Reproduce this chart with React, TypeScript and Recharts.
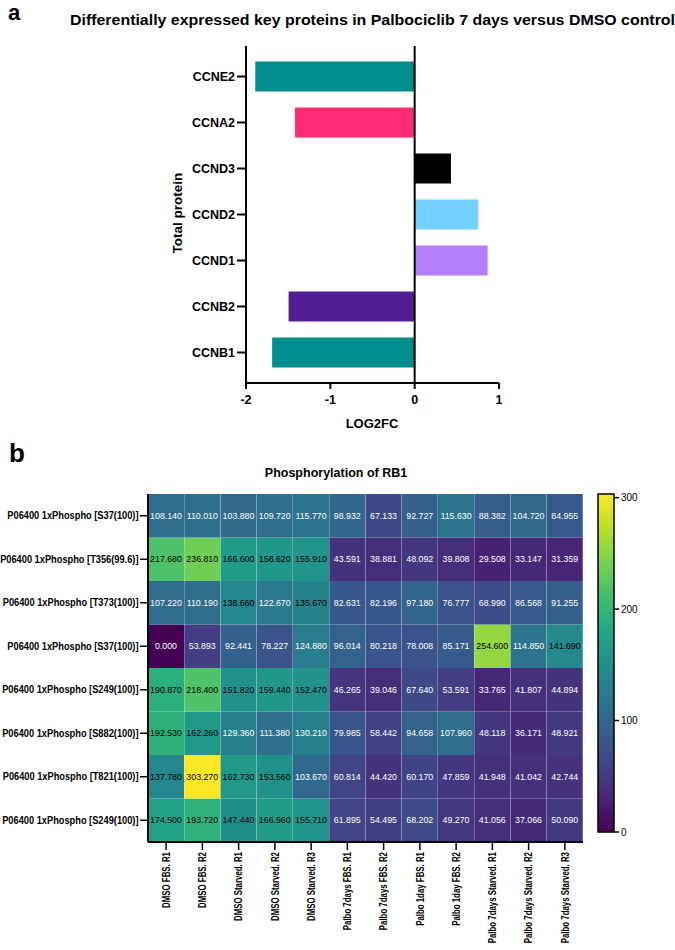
import React from 'react';
import { BarChart, Bar, XAxis, YAxis, Cell, ReferenceLine, LabelList } from 'recharts';

// ---------- Panel a data ----------
const proteins = ['CCNE2', 'CCNA2', 'CCND3', 'CCND2', 'CCND1', 'CCNB2', 'CCNB1'];
const log2fc = [-1.89, -1.42, 0.43, 0.755, 0.865, -1.495, -1.69];
const proteinColors = ['#008e8c', '#ff2b77', '#000000', '#73d1ff', '#b47dfa', '#521c92', '#008e8c'];
const log2fcTicks = [-2, -1, 0, 1];

// ---------- Panel b data ----------
const conditions = [
  'DMSO FBS. R1', 'DMSO FBS. R2', 'DMSO Starved. R1', 'DMSO Starved. R2', 'DMSO Starved. R3',
  'Palbo 7days FBS. R1', 'Palbo 7days FBS. R2', 'Palbo 1day FBS. R1', 'Palbo 1day FBS. R2',
  'Palbo 7days Starved. R1', 'Palbo 7days Starved. R2', 'Palbo 7days Starved. R3',
];
const sites = [
  'P06400 1xPhospho [S37(100)]',
  'P06400 1xPhospho [T356(99.6)]',
  'P06400 1xPhospho [T373(100)]',
  'P06400 1xPhospho [S37(100)]',
  'P06400 1xPhospho [S249(100)]',
  'P06400 1xPhospho [S882(100)]',
  'P06400 1xPhospho [T821(100)]',
  'P06400 1xPhospho [S249(100)]',
];
const rowS37a = [108.14, 110.01, 103.88, 109.72, 115.77, 98.932, 67.133, 92.727, 115.63, 88.382, 104.72, 84.955];
const rowT356 = [217.68, 236.81, 166.6, 158.62, 155.91, 43.591, 38.881, 48.092, 39.808, 29.508, 33.147, 31.359];
const rowT373 = [107.22, 110.19, 138.66, 122.67, 135.67, 82.631, 82.196, 97.18, 76.777, 68.99, 86.568, 91.255];
const rowS37b = [0.0, 53.893, 92.441, 78.227, 124.88, 96.014, 80.218, 78.008, 85.171, 254.6, 114.85, 141.69];
const rowS249a = [190.87, 218.4, 151.82, 159.44, 152.47, 46.265, 39.046, 67.64, 53.591, 33.765, 41.807, 44.894];
const rowS882 = [192.53, 162.26, 129.36, 111.38, 130.21, 79.985, 58.442, 94.658, 107.96, 48.118, 36.171, 48.921];
const rowT821 = [137.78, 303.27, 162.73, 153.56, 103.67, 60.814, 44.42, 60.17, 47.859, 41.948, 41.042, 42.744];
const rowS249b = [174.5, 193.72, 147.44, 166.56, 155.71, 61.895, 54.495, 68.202, 49.27, 41.056, 37.066, 50.09];
const heatRows = [rowS37a, rowT356, rowT373, rowS37b, rowS249a, rowS882, rowT821, rowS249b];
const colorbarTicks = [0, 100, 200, 300];

const FONT = '"Liberation Sans", Arial, Helvetica, sans-serif';

// viridis colormap stops
const viridis = ['#440154', '#482475', '#414487', '#355f8d', '#2a788e', '#21918c', '#22a884', '#44bf70', '#7ad151', '#bddf26', '#fde725'];
const hex2rgb = (h: string) => [parseInt(h.slice(1, 3), 16), parseInt(h.slice(3, 5), 16), parseInt(h.slice(5, 7), 16)];
const viridisColor = (t: number) => {
  const c = Math.max(0, Math.min(1, t)) * (viridis.length - 1);
  const i = Math.min(viridis.length - 2, Math.floor(c));
  const f = c - i;
  const a = hex2rgb(viridis[i]);
  const b = hex2rgb(viridis[i + 1]);
  const m = a.map((v, k) => Math.round(v + (b[k] - v) * f));
  return `rgb(${m[0]},${m[1]},${m[2]})`;
};

const vmax = Math.max(...heatRows.map((r) => Math.max(...r)));

const barData = proteins.map((p, i) => ({ protein: p, value: log2fc[i] }));

const heatData = conditions.map((c, j) => {
  const o: any = { cond: c };
  heatRows.forEach((r, i) => {
    o[`u${i}`] = 1;
    o[`v${i}`] = r[j];
  });
  return o;
});

const cbData = [{ k: 'scale', v: vmax }];

const CellLabel = (props: any) => {
  const { x, y, width, height, value } = props;
  const v = Number(value);
  return (
    <text
      x={Number(x) + Number(width) / 2}
      y={Number(y) + Number(height) / 2}
      dy="0.35em"
      textAnchor="middle"
      fontSize={8.8}
      fontFamily={FONT}
      fill={v >= 133 ? '#000' : '#fff'}
    >
      {v.toFixed(3)}
    </text>
  );
};

const CondTick = (props: any) => {
  const { x, y, payload } = props;
  return (
    <text
      x={0}
      y={0}
      transform={`translate(${x}, ${y}) rotate(-90) scale(0.75, 1)`}
      textAnchor="end"
      dy="0.35em"
      fontSize={10.5}
      fontWeight="bold"
      fontFamily={FONT}
      fill="#000"
    >
      {payload.value}
    </text>
  );
};

const rowTicks = heatRows.map((_, i) => i + 0.5);

const RowTick = (props: any) => {
  const { x, y, payload } = props;
  const label = sites[heatRows.length - 1 - Math.floor(Number(payload.value))];
  return (
    <text
      x={0}
      y={0}
      transform={`translate(${x}, ${y}) scale(0.9, 1)`}
      dy="0.35em"
      textAnchor="end"
      fontSize={10.3}
      fontWeight="bold"
      fontFamily={FONT}
      fill="#000"
    >
      {label}
    </text>
  );
};

export default function App() {
  const stackOrder = heatRows.map((_, i) => heatRows.length - 1 - i); // bottom row first
  return (
    <div style={{ position: 'absolute', left: 0, top: 0, width: 675, height: 950, background: '#fff', fontFamily: FONT, overflow: 'hidden' }}>
      <svg width={675} height={950} style={{ position: 'absolute', left: 0, top: 0 }}>
        <defs>
          <linearGradient id="viridisGrad" x1="0" y1="1" x2="0" y2="0">
            {viridis.map((c, i) => (
              <stop key={i} offset={`${(i / (viridis.length - 1)) * 100}%`} stopColor={c} />
            ))}
          </linearGradient>
        </defs>
        <text x={8} y={20} fontSize={22} fontWeight="bold" fontFamily={FONT}>a</text>
        <text x={70} y={25} fontSize={14.5} fontWeight="bold" fontFamily={FONT} textLength={605} lengthAdjust="spacingAndGlyphs">
          Differentially expressed key proteins in Palbociclib 7 days versus DMSO control
        </text>
        <text x={0} y={0} transform="translate(182, 213) rotate(-90)" textAnchor="middle" fontSize={13.5} fontWeight="bold" fontFamily={FONT}>
          Total protein
        </text>
        <text x={372} y={428} textAnchor="middle" fontSize={13} fontWeight="bold" fontFamily={FONT}>LOG2FC</text>
        <text x={9} y={462} fontSize={26} fontWeight="bold" fontFamily={FONT}>b</text>
        <text x={336} y={477} textAnchor="middle" fontSize={12.5} fontWeight="bold" fontFamily={FONT}>Phosphorylation of RB1</text>
      </svg>

      <div style={{ position: 'absolute', left: 0, top: 0 }}>
        <BarChart
          width={675}
          height={440}
          data={barData}
          layout="vertical"
          margin={{ top: 46, right: 176, bottom: 0, left: 0 }}
        >
          <XAxis
            type="number"
            domain={[-2, 1]}
            ticks={log2fcTicks}
            height={57}
            tickSize={6}
            tickMargin={6}
            axisLine={{ stroke: '#000', strokeWidth: 2 }}
            tickLine={{ stroke: '#000', strokeWidth: 2 }}
            tick={{ fill: '#000', fontSize: 12.5, fontWeight: 'bold', fontFamily: FONT }}
          />
          <YAxis
            type="category"
            dataKey="protein"
            width={246}
            padding={{ top: 7.5, bottom: 7.5 }}
            tickSize={9}
            tickMargin={2}
            axisLine={{ stroke: '#000', strokeWidth: 2 }}
            tickLine={{ stroke: '#000', strokeWidth: 2 }}
            tick={{ fill: '#000', fontSize: 12.5, fontWeight: 'bold', fontFamily: FONT }}
          />
          <Bar dataKey="value" barSize={30} isAnimationActive={false}>
            {barData.map((d, i) => (
              <Cell key={d.protein} fill={proteinColors[i]} />
            ))}
          </Bar>
          <ReferenceLine x={0} stroke="#000" strokeWidth={2} />
        </BarChart>
      </div>

      <div style={{ position: 'absolute', left: 0, top: 440 }}>
        <BarChart
          width={675}
          height={510}
          data={heatData}
          barCategoryGap={0}
          margin={{ top: 54, right: 92, bottom: 0, left: 0 }}
        >
          <XAxis
            dataKey="cond"
            type="category"
            height={108}
            interval={0}
            tickSize={8}
            tickMargin={2}
            axisLine={{ stroke: '#000', strokeWidth: 2 }}
            tickLine={{ stroke: '#000', strokeWidth: 1.5 }}
            tick={<CondTick />}
          />
          <XAxis xAxisId="top" orientation="top" dataKey="cond" type="category" height={0} tick={false} tickLine={false} axisLine={{ stroke: '#000', strokeWidth: 2 }} />
          <YAxis
            type="number"
            domain={[0, heatRows.length]}
            ticks={rowTicks}
            interval={0}
            width={148}
            tickSize={8}
            tickMargin={1.5}
            axisLine={{ stroke: '#000', strokeWidth: 2 }}
            tickLine={{ stroke: '#000', strokeWidth: 1.5 }}
            tick={<RowTick />}
          />
          <YAxis yAxisId="right" orientation="right" type="number" domain={[0, heatRows.length]} width={0} tick={false} tickLine={false} axisLine={{ stroke: '#000', strokeWidth: 2 }} />
          {stackOrder.map((i) => (
            <Bar key={i} dataKey={`u${i}`} stackId="heat" isAnimationActive={false}>
              {heatData.map((d, j) => (
                <Cell key={j} fill={viridisColor(heatRows[i][j] / vmax)} />
              ))}
              <LabelList dataKey={`v${i}`} content={<CellLabel />} />
            </Bar>
          ))}
        </BarChart>
      </div>

      <div style={{ position: 'absolute', left: 590, top: 470 }}>
        <BarChart
          width={85}
          height={370}
          data={cbData}
          barCategoryGap={0}
          margin={{ top: 24, right: 0, bottom: 8, left: 8 }}
        >
          <XAxis dataKey="k" hide />
          <YAxis
            orientation="right"
            type="number"
            domain={[0, vmax]}
            ticks={colorbarTicks}
            interval={0}
            width={61}
            axisLine={false}
            tickSize={5}
            tickMargin={2}
            tickLine={{ stroke: '#000', strokeWidth: 1.5 }}
            tick={{ fill: '#000', fontSize: 10, fontFamily: FONT }}
          />
          <Bar dataKey="v" fill="url(#viridisGrad)" stroke="#000" strokeWidth={1.5} isAnimationActive={false} />
        </BarChart>
      </div>
    </div>
  );
}
